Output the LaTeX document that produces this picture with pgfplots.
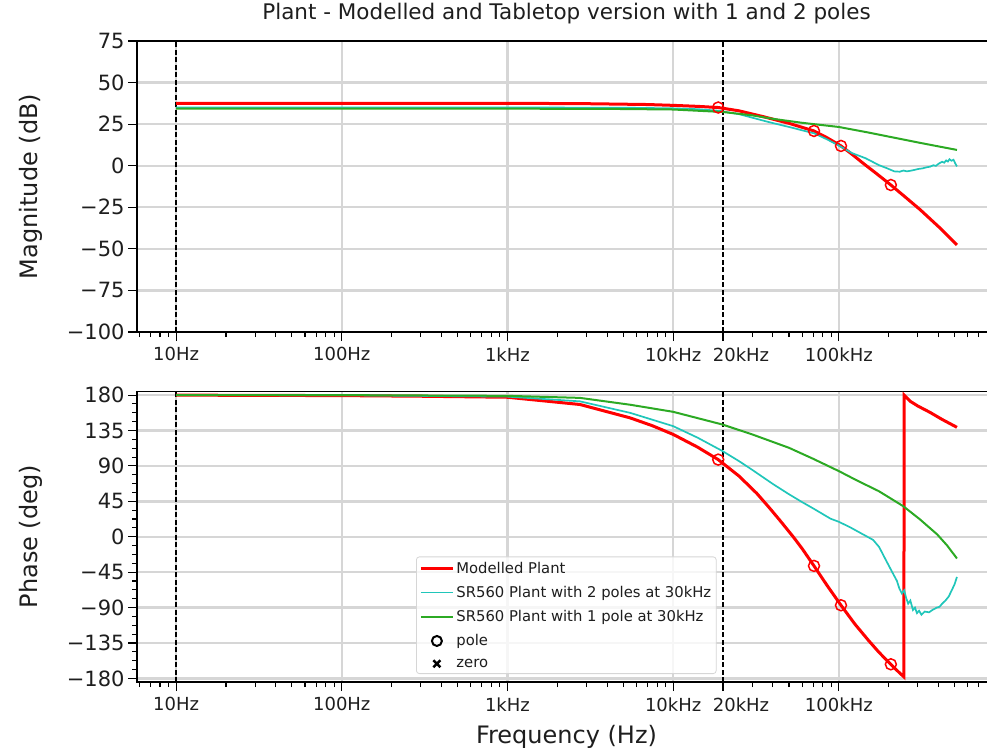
\documentclass[border=0pt]{standalone}
\usepackage{fontspec}
\setmainfont{DejaVu Sans}
\usepackage{pgfplots}
\pgfplotsset{compat=1.18}
\definecolor{cred}{RGB}{255,0,0}
\definecolor{ccyan}{RGB}{32,198,186}
\definecolor{cgreen}{RGB}{44,170,36}
\definecolor{cgrid}{RGB}{214,214,214}
\definecolor{ctext}{RGB}{30,30,30}
\pgfplotsset{markleg/.style={legend image code/.code={\draw[mark repeat=2,mark phase=2,##1] plot coordinates {(0pt,0pt) (16pt,0pt) (32pt,0pt)};}}}
\begin{document}
\begin{tikzpicture}
\begin{axis}[
    scale only axis, width=859pt,
    xmode=log, xmin=5.81, xmax=888000,
    xtick={10,100,1000,10000,100000},
    xticklabels={10Hz,100Hz,1kHz,10kHz,100kHz},
    extra x ticks={20000}, extra x tick labels={20kHz},
    extra x tick style={xmajorgrids=false, xticklabel style={xshift=18pt}},
    minor xtick={6,7,8,9,20,30,40,50,60,70,80,90,200,300,400,500,600,700,800,900,2000,3000,4000,5000,6000,7000,8000,9000,30000,40000,50000,60000,70000,80000,90000,200000,300000,400000,500000,600000,700000,800000},
    xmajorgrids, ymajorgrids,
    major grid style={cgrid, line width=2.4pt},
    tick align=outside, xtick pos=bottom, ytick pos=left,
    major tick length=9pt, minor tick length=5pt,
    tick style={black, line width=1.1pt},
    axis line style={black, line width=1.1pt},
    xticklabel style={font=\fontsize{18}{20}\selectfont, text=ctext, yshift=-3pt},
    yticklabel style={font=\fontsize{21}{23}\selectfont, text=ctext},
    label style={font=\fontsize{24}{26}\selectfont, text=ctext},
    ylabel style={at={(axis description cs:-0.124,0.5)}, anchor=center},
  at={(137pt,-41pt)}, anchor=north west, height=291pt,
  ymin=-100, ymax=75,
  ytick={-100,-75,-50,-25,0,25,50,75},
  yticklabels={−100,−75,−50,−25,0,25,50,75},
  ylabel={Magnitude (dB)},
  title={Plant - Modelled and Tabletop version with 1 and 2 poles},
  title style={font=\fontsize{21.5}{23}\selectfont, text=ctext, at={(axis description cs:0.5,1.052)}, anchor=base},
]
\addplot[black, dash pattern=on 5pt off 2.5pt, line width=1.4pt, forget plot] coordinates {(10,-100) (10,75)};
\addplot[black, dash pattern=on 5pt off 2.5pt, line width=1.4pt, forget plot] coordinates {(20000,-100) (20000,75)};
\addplot[cred, line width=3pt] coordinates {
(10,37.5) (100,37.5) (1000,37.5) (2000,37.4) (3000,37.3) (5000,37.0) (7000,36.8) (10000,36.3) (14000,35.7) (18700,35.0) (25000,33.0) (35000,29.5) (50000,25.5) (70800,20.9) (85000,16.8) (103000,11.9) (120000,6.9) (140000,1.5) (170000,-5.0) (206000,-11.6) (250000,-18.6) (310000,-26.5) (400000,-36.7) (516000,-47.7)};
\addplot[ccyan, line width=1.7pt] coordinates {
(10,35.0) (100,35.0) (1000,35.0) (5000,34.9) (10000,34.5) (14000,34.0) (18700,33.1) (25000,31.0) (36900,26.5) (50000,23.3) (70800,19.5) (85000,15.8) (103000,11.4) (120000,7.6) (145000,4.5) (160000,2.3) (174000,0.4) (195000,-1.5) (216000,-3.4) (233000,-3.6) (245000,-2.9) (258000,-3.4) (278000,-2.8) (300000,-2.0) (320000,-1.6) (340000,-0.9) (355000,-0.6) (372000,0.3) (385000,-0.1) (400000,1.2) (420000,2.4) (432000,1.8) (444000,3.2) (455000,2.5) (465000,3.9) (478000,3.0) (492000,3.6) (505000,1.2) (516000,-0.4)};
\addplot[cgreen, line width=2pt] coordinates {
(10,34.3) (100,34.3) (1000,34.3) (3000,34.2) (5000,34.1) (10000,33.8) (20000,32.3) (30000,30.3) (40000,28.2) (60000,25.8) (80000,24.4) (100000,23.3) (150000,20.0) (200000,17.5) (300000,14.0) (400000,11.6) (516000,9.5)};
\addplot[cred, only marks, mark=o, mark size=5.5pt, line width=1.5pt] coordinates {(18700,35.0) (70800,20.9) (103000,11.9) (206000,-11.6)};
\end{axis}

\begin{axis}[
    scale only axis, width=859pt,
    xmode=log, xmin=5.81, xmax=888000,
    xtick={10,100,1000,10000,100000},
    xticklabels={10Hz,100Hz,1kHz,10kHz,100kHz},
    extra x ticks={20000}, extra x tick labels={20kHz},
    extra x tick style={xmajorgrids=false, xticklabel style={xshift=18pt}},
    minor xtick={6,7,8,9,20,30,40,50,60,70,80,90,200,300,400,500,600,700,800,900,2000,3000,4000,5000,6000,7000,8000,9000,30000,40000,50000,60000,70000,80000,90000,200000,300000,400000,500000,600000,700000,800000},
    xmajorgrids, ymajorgrids,
    major grid style={cgrid, line width=2.4pt},
    tick align=outside, xtick pos=bottom, ytick pos=left,
    major tick length=9pt, minor tick length=5pt,
    tick style={black, line width=1.1pt},
    axis line style={black, line width=1.1pt},
    xticklabel style={font=\fontsize{18}{20}\selectfont, text=ctext, yshift=-3pt},
    yticklabel style={font=\fontsize{21}{23}\selectfont, text=ctext},
    label style={font=\fontsize{24}{26}\selectfont, text=ctext},
    ylabel style={at={(axis description cs:-0.124,0.5)}, anchor=center},
  at={(137pt,-391.5pt)}, anchor=north west, height=290.5pt,
  ymin=-184.5, ymax=184.5,
  ytick={-180,-135,-90,-45,0,45,90,135,180},
  yticklabels={−180,−135,−90,−45,0,45,90,135,180},
  minor ytick={-168.75,-157.5,-146.25,-123.75,-112.5,-101.25,-78.75,-67.5,-56.25,-33.75,-22.5,-11.25,11.25,22.5,33.75,56.25,67.5,78.75,101.25,112.5,123.75,146.25,157.5,168.75},
  ylabel={Phase (deg)},
  xlabel={Frequency (Hz)},
  xlabel style={at={(axis description cs:0.5,-0.19)}, anchor=center},
  legend style={at={(axis description cs:0.3248,0.0275)}, anchor=south west, draw=cgrid, line width=0.8pt, rounded corners=3pt, fill=white, fill opacity=0.8, text opacity=1, font=\fontsize{14.8}{16}\selectfont, text=ctext, row sep=7.5pt, inner sep=3pt},
  legend cell align=left,
  legend image code/.code={\draw[#1] (0pt,0pt) -- (32pt,0pt);},
]
\addplot[black, dash pattern=on 5pt off 2.5pt, line width=1.4pt, forget plot] coordinates {(10,-184.5) (10,184.5)};
\addplot[black, dash pattern=on 5pt off 2.5pt, line width=1.4pt, forget plot] coordinates {(20000,-184.5) (20000,184.5)};
\addplot[cred, line width=3pt] coordinates {
(10,179.9) (100,179.3) (300,178.5) (1000,177.2) (2740,168) (5500,151) (7500,141) (10000,130) (14000,114) (18700,98) (25000,77) (32000,55) (38000,37) (44000,21) (53000,0) (60000,-15) (70800,-37) (85000,-62) (103000,-87) (125000,-111) (150000,-131) (175000,-147) (206000,-162) (230000,-172) (247000,-178) (247500,180) (270000,172) (300000,166) (355000,158) (420000,149) (516000,139)};
\addlegendentry{Modelled Plant}
\addplot[ccyan, line width=1.7pt] coordinates {
(10,180) (100,179.8) (1000,178) (2740,172) (5500,157.4) (10000,140.5) (14000,126) (19800,109) (25000,96) (30000,85) (40000,67) (50000,54) (60000,44) (70000,36) (89000,23) (100000,19) (117000,12) (140000,3) (161000,-4) (175000,-13) (191000,-28.5) (210000,-45) (224000,-56) (232000,-66) (240000,-72) (248000,-68) (255000,-78) (262000,-85) (270000,-81) (280000,-93) (288000,-90) (296000,-97) (305000,-94) (315000,-99) (330000,-95) (350000,-96) (367000,-93) (390000,-90) (405000,-89) (420000,-85) (440000,-81) (460000,-76) (485000,-66) (500000,-60) (516000,-51)};
\addlegendentry{SR560 Plant with 2 poles at 30kHz}
\addplot[cgreen, line width=2pt] coordinates {
(10,180) (100,179.9) (1000,179) (2740,176.4) (5500,167.7) (10000,158.7) (19800,142.6) (30000,130) (50000,113) (70000,99) (100000,83.4) (130000,71) (174000,58) (244000,39) (309000,22) (392000,3) (450000,-11) (516000,-27.6)};
\addlegendentry{SR560 Plant with 1 pole at 30kHz}
\addplot[cred, only marks, mark=o, mark size=5.5pt, line width=1.5pt, forget plot] coordinates {(18700,98) (70800,-37) (103000,-87) (206000,-162)};
\addlegendimage{black, only marks, mark=o, mark size=5pt, line width=2pt, markleg}
\addlegendentry{pole}
\addlegendimage{black, only marks, mark=x, mark size=5pt, line width=2.5pt, markleg}
\addlegendentry{zero}
\end{axis}
\pgfresetboundingbox
\useasboundingbox (0pt,0pt) rectangle (987pt,-750pt);
\end{tikzpicture}
\end{document}
